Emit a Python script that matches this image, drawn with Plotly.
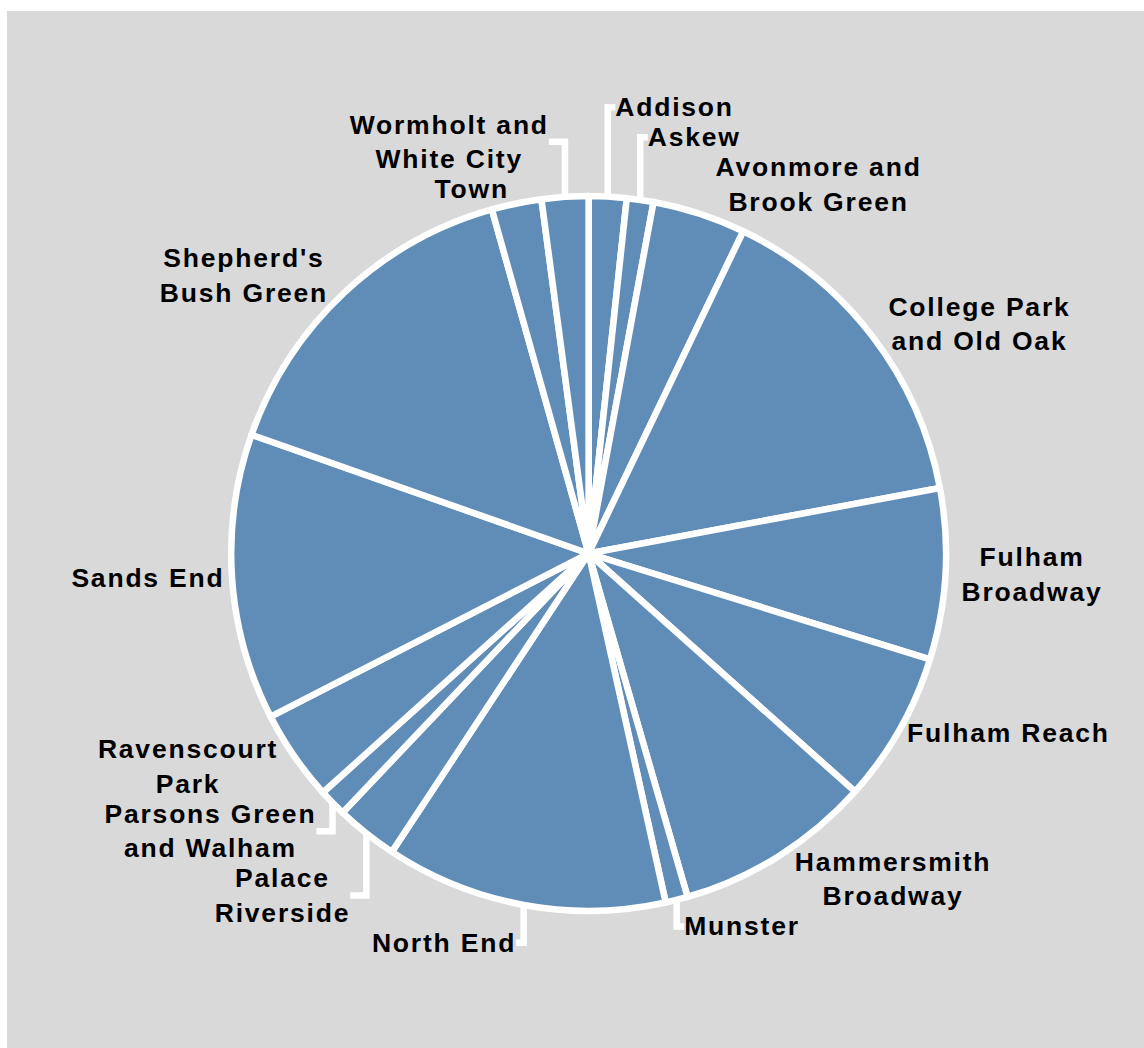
import plotly.graph_objects as go

wards = ["Addison", "Askew", "Avonmore and Brook Green", "College Park and Old Oak",
         "Fulham Broadway", "Fulham Reach", "Hammersmith Broadway", "Munster",
         "North End", "Palace Riverside", "Parsons Green and Walham", "Ravenscourt Park",
         "Sands End", "Shepherd's Bush Green", "Town", "Wormholt and White City"]
label_text = ["Addison", "Askew", "Avonmore and<br>Brook Green", "College Park<br>and Old Oak",
              "Fulham<br>Broadway", "Fulham Reach", "Hammersmith<br>Broadway", "Munster",
              "North End", "Palace<br>Riverside", "Parsons Green<br>and Walham", "Ravenscourt<br>Park",
              "Sands End", "Shepherd's<br>Bush Green", "Town", "Wormholt and<br>White City"]
share = [1.7, 1.2, 4.2, 14.9, 7.7, 6.8, 8.9, 1.0, 12.7, 2.8, 1.25, 4.1, 12.9, 15.2, 2.25, 2.1]

W, H = 1144, 1048
cx, cy, r = 588.6, 553.5, 357.4

spaced = ["<br>".join('<span style="letter-spacing:1.8px">' + part + "</span>" for part in t.split("<br>"))
          for t in label_text]

fig = go.Figure(go.Pie(
    labels=wards,
    values=share,
    text=spaced,
    textinfo="text",
    textposition="outside",
    sort=False,
    direction="clockwise",
    rotation=0,
    marker=dict(colors=["#5f8db8"] * len(wards), line=dict(color="white", width=6.5)),
    textfont=dict(family="Liberation Sans, Arial, sans-serif", size=26.5, color="black", weight="bold"),
    hoverinfo="none",
    showlegend=False,
    automargin=False,
    domain=dict(x=[(cx - r) / W, (cx + r) / W], y=[1 - (cy + r) / H, 1 - (cy - r) / H]),
))

fig.update_layout(
    width=W, height=H,
    margin=dict(l=0, r=0, t=0, b=0),
    paper_bgcolor="white",
    shapes=[dict(type="rect", xref="paper", yref="paper",
                 x0=7 / W, x1=1.01, y0=-0.01, y1=1 - 11 / H,
                 fillcolor="#d9d9d9", line=dict(width=0), layer="below")],
)

post = ("function styleLines(){document.querySelectorAll('path.textline').forEach(function(p){"
        "p.setAttribute('stroke-width','6.5');"
        "p.style.setProperty('stroke','white','important');"
        "p.style.setProperty('stroke-width','6.5px','important');"
        "p.style.setProperty('stroke-linejoin','miter','important');});}"
        "styleLines();setTimeout(styleLines,50);")
fig.write_html("out.html", post_script=post)
